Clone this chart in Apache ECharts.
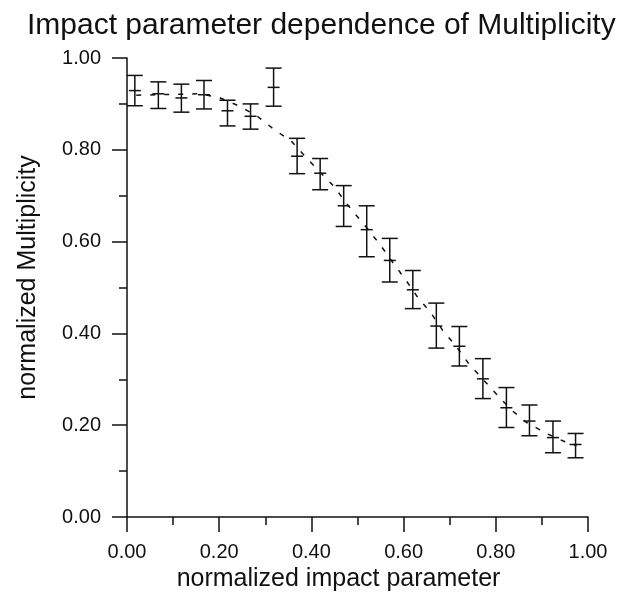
<!DOCTYPE html>
<html>
<head>
<meta charset="utf-8">
<script src="https://cdn.jsdelivr.net/npm/echarts@6/dist/echarts.min.js"></script>
<style>
html,body{margin:0;padding:0;background:#fff;}
#chart{width:619px;height:596px;}
</style>
</head>
<body>
<div id="chart"></div>
<script>
// Measured points (normalized impact parameter, multiplicity, error low, error high)
const pointX = [0.017,0.068,0.118,0.167,0.218,0.268,0.318,0.369,0.419,0.470,0.520,0.570,0.620,0.671,0.721,0.772,0.823,0.873,0.924,0.973];
const pointY = [0.929,0.922,0.913,0.920,0.885,0.873,0.936,0.786,0.749,0.678,0.626,0.559,0.495,0.416,0.372,0.301,0.238,0.209,0.173,0.158];
const errLow = [0.896,0.890,0.882,0.889,0.852,0.845,0.895,0.748,0.713,0.633,0.567,0.512,0.454,0.368,0.329,0.258,0.195,0.177,0.140,0.129];
const errHigh = [0.962,0.948,0.943,0.951,0.908,0.900,0.978,0.825,0.781,0.722,0.678,0.607,0.537,0.466,0.415,0.345,0.282,0.244,0.209,0.182];
// Dashed reference curve
const curveX = [0.020,0.070,0.120,0.158,0.200,0.244,0.284,0.317,0.357,0.389,0.420,0.450,0.480,0.520,0.550,0.577,0.605,0.631,0.659,0.686,0.714,0.742,0.772,0.803,0.834,0.865,0.910,0.950,0.975];
const curveY = [0.919,0.920,0.921,0.922,0.914,0.895,0.872,0.846,0.818,0.783,0.750,0.719,0.678,0.630,0.592,0.554,0.516,0.478,0.445,0.405,0.372,0.333,0.300,0.266,0.233,0.207,0.182,0.164,0.155];
const tickLabels = ['0.00','0.20','0.40','0.60','0.80','1.00'];

const errData = pointX.map((x,i)=>[x, errLow[i], errHigh[i], pointY[i]]);
const curveData = curveX.map((x,i)=>[x, curveY[i]]);
const ink = '#111';
const fnt = 'Liberation Sans, Arial, Helvetica, sans-serif';

const chart = echarts.init(document.getElementById('chart'), null, {renderer:'canvas'});
const fmt = v => tickLabels[Math.round(v/0.2)] || v.toFixed(2);

chart.setOption({
  animation:false,
  backgroundColor:'#fff',
  title:{
    text:'Impact parameter dependence of Multiplicity',
    left:22, top:6,
    textStyle:{fontFamily:fnt, fontSize:30, fontWeight:'normal', color:ink}
  },
  grid:{left:127, right:31, top:58, bottom:79, containLabel:false, outerBoundsMode:'none'},
  xAxis:{
    type:'value', min:0, max:1, interval:0.2,
    name:'normalized impact parameter', nameLocation:'middle', nameGap:48,
    nameTextStyle:{fontFamily:fnt, fontSize:25, color:ink, padding:[0,38,0,0]},
    axisLine:{show:true, onZero:false, lineStyle:{color:ink, width:1.5}},
    axisTick:{show:true, inside:false, length:15, lineStyle:{color:ink, width:1.5}},
    minorTick:{show:true, splitNumber:2, length:8, lineStyle:{color:ink, width:1.5}},
    axisLabel:{formatter:fmt, fontFamily:fnt, fontSize:20, color:ink, margin:25},
    splitLine:{show:false}, minorSplitLine:{show:false}
  },
  yAxis:{
    type:'value', min:0, max:1, interval:0.2,
    name:'normalized Multiplicity', nameLocation:'middle', nameGap:86,
    nameTextStyle:{fontFamily:fnt, fontSize:25, color:ink, padding:[0,0,0,20]},
    axisLine:{show:true, onZero:false, lineStyle:{color:ink, width:1.5}},
    axisTick:{show:true, inside:false, length:15, lineStyle:{color:ink, width:1.5}},
    minorTick:{show:true, splitNumber:2, length:8, lineStyle:{color:ink, width:1.5}},
    axisLabel:{formatter:fmt, fontFamily:fnt, fontSize:20, color:ink, margin:26},
    splitLine:{show:false}, minorSplitLine:{show:false}
  },
  series:[
    {
      type:'line', data:curveData, symbol:'none', smooth:false,
      lineStyle:{color:ink, width:1.5, type:[5,9]}, z:2
    },
    {
      type:'custom', data:errData, z:3,
      renderItem:function(params, api){
        const x = api.value(0);
        const lo = api.coord([x, api.value(1)]);
        const hi = api.coord([x, api.value(2)]);
        const c = api.coord([x, api.value(3)]);
        const cap = 8, mid = 6;
        const st = {stroke:ink, lineWidth:1.5};
        return {type:'group', children:[
          {type:'line', shape:{x1:lo[0], y1:lo[1], x2:hi[0], y2:hi[1]}, style:st},
          {type:'line', shape:{x1:lo[0]-cap, y1:lo[1], x2:lo[0]+cap, y2:lo[1]}, style:st},
          {type:'line', shape:{x1:hi[0]-cap, y1:hi[1], x2:hi[0]+cap, y2:hi[1]}, style:st},
          {type:'line', shape:{x1:c[0]-mid, y1:c[1], x2:c[0]+mid, y2:c[1]}, style:st}
        ]};
      }
    }
  ]
});
</script>
</body>
</html>
